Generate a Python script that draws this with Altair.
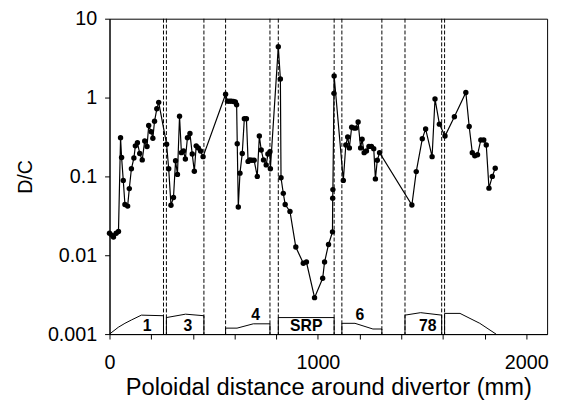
import altair as alt
import pandas as pd

# Measured D/C series
x_mm = [0, 11, 19, 32, 43, 53, 58, 66, 74, 87, 95, 105, 117, 124, 134, 145, 157, 169, 180, 188,
        200, 208, 216, 227, 236, 274, 284, 295, 307, 317, 326, 336, 345, 355, 364, 374, 386, 397,
        407, 416, 426, 437, 449, 557, 566, 576, 585, 595, 604, 610, 613, 618, 626, 637, 647, 657,
        665, 673, 683, 694, 709, 719, 728, 739, 752, 760, 770, 772, 810, 820, 823, 834, 843, 866,
        894, 930, 945, 984, 1023, 1032, 1051, 1070, 1071, 1072, 1077, 1078, 1122, 1134, 1143, 1151,
        1162, 1173, 1182, 1193, 1205, 1212, 1222, 1233, 1245, 1257, 1268, 1276, 1285, 1296, 1451,
        1472, 1501, 1517, 1548, 1562, 1583, 1610, 1655, 1710, 1726, 1741, 1753, 1766, 1782, 1796,
        1808, 1821, 1837, 1851]
dc = [0.019, 0.018, 0.017, 0.019, 0.020, 0.31, 0.174, 0.089, 0.044, 0.042, 0.070, 0.125, 0.171,
      0.244, 0.268, 0.195, 0.162, 0.282, 0.239, 0.443, 0.368, 0.305, 0.50, 0.72, 0.87, 0.256,
      0.125, 0.043, 0.054, 0.158, 0.106, 0.58, 0.20, 0.21, 0.166, 0.31, 0.35, 0.192, 0.116, 0.244,
      0.23, 0.21, 0.178, 1.10, 0.90, 0.90, 0.90, 0.89, 0.88, 0.81, 0.26, 0.041, 0.11, 0.195, 0.54,
      0.54, 0.155, 0.162, 0.16, 0.16, 0.10, 0.325, 0.216, 0.162, 0.14, 0.192, 0.205, 0.125, 4.4,
      1.72, 0.096, 0.061, 0.044, 0.036, 0.0127, 0.0079, 0.0082, 0.0029, 0.0051, 0.0082, 0.0137,
      0.0198, 0.053, 0.068, 1.13, 1.88, 0.089, 0.25, 0.316, 0.23, 0.42, 0.41, 0.41, 0.49, 0.23,
      0.296, 0.20, 0.21, 0.24, 0.24, 0.225, 0.093, 0.16, 0.20, 0.0434, 0.115, 0.30, 0.40, 0.178,
      0.96, 0.46, 0.325, 0.57, 1.16, 0.43, 0.20, 0.183, 0.188, 0.29, 0.29, 0.25, 0.071, 0.10, 0.127]

# Tile boundaries (dashed lines)
boundaries = [259, 273, 453, 557, 770, 810, 1078, 1115, 1307, 1418, 1594, 1608]

# Tile profile outlines
prof_group = [1]*7 + [3]*5 + [4]*6 + [5]*4 + [6]*6 + [7]*5 + [8]*6
prof_x = [0, 42, 74, 105, 153, 259, 259,
          273, 273, 365, 453, 453,
          557, 557, 612, 690, 770, 770,
          810, 810, 1078, 1078,
          1115, 1115, 1178, 1264, 1307, 1307,
          1418, 1418, 1493, 1594, 1594,
          1608, 1608, 1682, 1730, 1777, 1855]
prof_y = [0.001, 0.00122, 0.00137, 0.00151, 0.00174, 0.00171, 0.001,
          0.001, 0.00162, 0.00179, 0.00171, 0.001,
          0.001, 0.00119, 0.00119, 0.00135, 0.00135, 0.001,
          0.001, 0.00162, 0.00162, 0.001,
          0.001, 0.00137, 0.00137, 0.00116, 0.00116, 0.001,
          0.001, 0.00174, 0.00187, 0.00174, 0.001,
          0.001, 0.00183, 0.00183, 0.00158, 0.00137, 0.001]

# Tile labels
tile_names = ["1", "3", "4", "SRP", "6", "78"]
tile_x = [181, 376, 701, 944, 1201, 1527]
tile_y = [0.00125, 0.00125, 0.00174, 0.00125, 0.00174, 0.00125]

FONT = "Liberation Sans"

series = pd.DataFrame({"x": x_mm, "y": dc, "i": range(len(x_mm))})
bdf = pd.DataFrame({"x": boundaries})
pdf = pd.DataFrame({"x": prof_x, "y": prof_y, "g": prof_group, "i": range(len(prof_x))})
tdf = pd.DataFrame({"x": tile_x, "y": tile_y, "t": tile_names})

xscale = alt.Scale(domain=[0, 2100], nice=False, zero=False)
yscale = alt.Scale(type="log", domain=[0.001, 10], nice=False)

xaxis = alt.Axis(
    title="Poloidal distance around divertor (mm)",
    values=list(range(0, 2101, 100)),
    labelExpr="datum.value % 500 === 0 ? format(datum.value, 'd') : ''",
    labelOverlap=False, labelFlush=False, grid=False,
    tickSize=5, labelPadding=14, titlePadding=3, titleFontSize=24,
)
yaxis = alt.Axis(
    title="D/C",
    values=[0.001, 0.01, 0.1, 1, 10],
    format="~g",
    labelFlush=False, grid=False, labelOverlap=False,
    tickSize=5, labelPadding=8, titlePadding=12,
)

X = alt.X("x:Q", scale=xscale, axis=xaxis)
Y = alt.Y("y:Q", scale=yscale, axis=yaxis)

rules = alt.Chart(bdf).mark_rule(color="black", strokeWidth=1, strokeDash=[4, 2]).encode(
    x=alt.X("x:Q", scale=xscale)
)
profiles = alt.Chart(pdf).mark_line(color="black", strokeWidth=1).encode(
    x=alt.X("x:Q", scale=xscale), y=alt.Y("y:Q", scale=yscale), detail="g:N", order="i:Q"
)
labels = alt.Chart(tdf).mark_text(font=FONT, fontSize=16, fontWeight="bold", color="black",
                                  baseline="middle", align="center").encode(
    x=alt.X("x:Q", scale=xscale), y=alt.Y("y:Q", scale=yscale), text="t:N"
)
line = alt.Chart(series).mark_line(color="black", strokeWidth=1.2).encode(
    x=X, y=Y, order="i:Q"
)
pts = alt.Chart(series).mark_circle(color="black", size=30, opacity=1).encode(
    x=alt.X("x:Q", scale=xscale), y=alt.Y("y:Q", scale=yscale)
)

chart = alt.layer(line, rules, profiles, labels, pts).properties(
    width=444, height=320,
    autosize=alt.AutoSizeParams(type="none"),
    padding={"left": 103, "top": 8, "right": 8, "bottom": 64},
    background="white",
).configure_view(stroke="black", strokeWidth=1).configure_axis(
    labelFont=FONT, titleFont=FONT, labelFontSize=20, titleFontSize=20,
    titleFontWeight="normal", labelColor="black", titleColor="black",
    domainColor="black", tickColor="black", domainWidth=1, tickWidth=1,
)

chart.save("out.html", embed_options={"renderer": "svg", "actions": False})
